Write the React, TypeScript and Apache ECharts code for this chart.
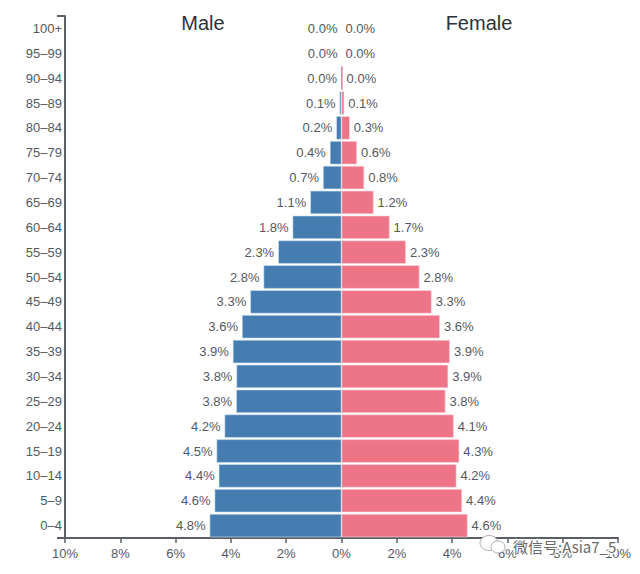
import React, { useEffect, useRef } from "react";
import * as echarts from "echarts";

const ageGroups = ["0–4","5–9","10–14","15–19","20–24","25–29","30–34","35–39","40–44","45–49","50–54","55–59","60–64","65–69","70–74","75–79","80–84","85–89","90–94","95–99","100+"];
const malePct = [4.77,4.59,4.44,4.52,4.23,3.81,3.8,3.93,3.6,3.3,2.82,2.29,1.77,1.13,0.67,0.42,0.19,0.07,0.02,0,0];
const femalePct = [4.56,4.36,4.16,4.26,4.06,3.76,3.86,3.92,3.56,3.26,2.82,2.33,1.74,1.16,0.82,0.56,0.3,0.1,0.04,0,0];
const xTicks = [-10,-8,-6,-4,-2,0,2,4,6,8,10];

const FONT = "'Liberation Sans', Arial, sans-serif";
const INK = "#55595f";
const AXIS = "#5a5e66";

export default function App() {
  const ref = useRef<HTMLDivElement>(null);
  useEffect(() => {
    const chart = echarts.init(ref.current!, null, { renderer: "svg" });
    const pct = (v: number) => Math.abs(v).toFixed(1) + "%";
    const makeSeries = (name: string, values: number[], color: string, edge: string, pos: string) => ({
      name,
      type: "bar",
      data: values.map((value) => ({
        value,
        itemStyle: {
          color: value === 0 ? "transparent" : color,
          borderColor: value === 0 ? "transparent" : edge,
          borderWidth: Math.abs(value) < 0.05 ? 0 : 0.6,
        },
      })),
      barWidth: "94%",
      barGap: "-100%",
      label: {
        show: true,
        position: pos,
        distance: 4,
        fontFamily: FONT,
        fontSize: 13,
        color: INK,
        formatter: (p: any) => pct(p.value),
      },
    });
    chart.setOption({
      animation: false,
      backgroundColor: "#ffffff",
      grid: { left: 65, right: 22, top: 16, height: 522 },
      xAxis: {
        type: "value",
        min: -10,
        max: 10,
        interval: xTicks[1] - xTicks[0],
        splitLine: { show: false },
        axisLine: { show: true, onZero: false, lineStyle: { color: AXIS, width: 2 } },
        axisTick: { show: true, length: 5, lineStyle: { color: AXIS, width: 1.5 } },
        axisLabel: { fontFamily: FONT, fontSize: 13, color: INK, margin: 9, formatter: (v: number) => Math.abs(v) + "%" },
      },
      yAxis: {
        type: "category",
        data: ageGroups,
        axisLine: { show: true, onZero: false, lineStyle: { color: AXIS, width: 2 } },
        axisTick: { show: false },
        axisLabel: { fontFamily: FONT, fontSize: 13, color: INK, margin: 3 },
      },
      series: [
        makeSeries("Male", malePct.map((v) => -v), "#457db1", "#cfe6f7", "left"),
        makeSeries("Female", femalePct, "#ee7488", "#fbdde2", "right"),
      ],
      graphic: [
        { type: "text", x: 203, y: 23, style: { text: "Male", font: `20px ${FONT}`, fill: "#2e3238", textAlign: "center", textVerticalAlign: "middle" } },
        { type: "text", x: 479, y: 23, style: { text: "Female", font: `20px ${FONT}`, fill: "#2e3238", textAlign: "center", textVerticalAlign: "middle" } },
        { type: "line", shape: { x1: 57, y1: 16, x2: 65, y2: 16 }, style: { stroke: AXIS, lineWidth: 2 } },
        { type: "line", shape: { x1: 57, y1: 538, x2: 65, y2: 538 }, style: { stroke: AXIS, lineWidth: 2 } },
        { type: "ellipse", z: 10, shape: { cx: 489, cy: 543, rx: 9, ry: 7.5 }, style: { fill: "#ffffff", stroke: "#9a9a9a", lineWidth: 0.8 } },
        { type: "ellipse", z: 10, shape: { cx: 498, cy: 547, rx: 7, ry: 6 }, style: { fill: "#ffffff", stroke: "#9a9a9a", lineWidth: 0.8 } },
        { type: "text", z: 10, x: 513, y: 546, style: { text: "微信号:Asia7_5", font: `15px 'Noto Sans CJK SC', ${FONT}`, fill: "#6a6a6a", stroke: "#ffffff", lineWidth: 2.5, textAlign: "left", textVerticalAlign: "middle" } },
      ],
    });
    return () => chart.dispose();
  }, []);
  return <div ref={ref} style={{ width: 640, height: 574, position: "absolute", left: 0, top: 0 }} />;
}
